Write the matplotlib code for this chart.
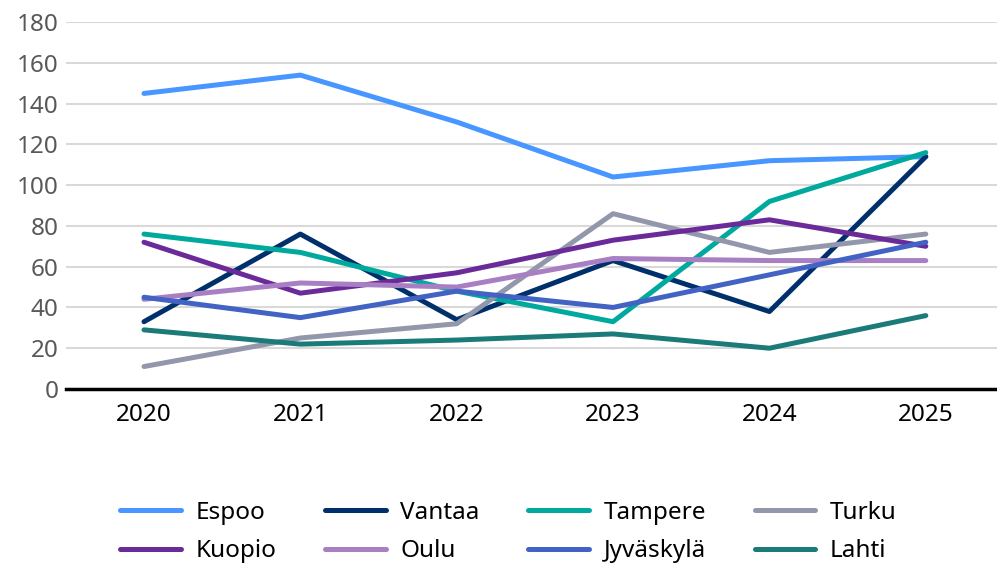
import matplotlib.pyplot as plt
import numpy as np

plt.rcParams['font.family'] = ['Noto Sans', 'DejaVu Sans']

years = ["2020", "2021", "2022", "2023", "2024", "2025"]

espoo = [145, 154, 131, 104, 112, 114]
vantaa = [33, 76, 34, 63, 38, 114]
tampere = [76, 67, 48, 33, 92, 116]
turku = [11, 25, 32, 86, 67, 76]
kuopio = [72, 47, 57, 73, 83, 70]
oulu = [44, 52, 50, 64, 63, 63]
jyvaskyla = [45, 35, 48, 40, 56, 72]
lahti = [29, 22, 24, 27, 20, 36]

series = [
    ("Espoo", espoo, "#4896FF"),
    ("Vantaa", vantaa, "#00306B"),
    ("Tampere", tampere, "#00A99D"),
    ("Turku", turku, "#9397AB"),
    ("Kuopio", kuopio, "#6B2A9A"),
    ("Oulu", oulu, "#A97FC4"),
    ("Jyväskylä", jyvaskyla, "#4262C4"),
    ("Lahti", lahti, "#1B7B78"),
]

fig = plt.figure(figsize=(9.97, 5.67), dpi=100)
ax = fig.add_axes([0.066, 0.314, 0.941, 0.647])

x = np.arange(len(years))
lines = []
for name, vals, col in series:
    ln, = ax.plot(x, vals, color=col, lw=3.6, label=name, solid_capstyle='round')
    lines.append(ln)

ax.set_xlim(-0.5, 5.5)
ax.set_ylim(0, 180)
ax.set_yticks(range(0, 181, 20))
ax.set_xticks(x)
ax.set_xticklabels(years)
ax.grid(axis='y', color='#D9D9D9', lw=1.5)
ax.set_axisbelow(True)
for s in ['top', 'right', 'left']:
    ax.spines[s].set_visible(False)
ax.spines['bottom'].set_color('black')
ax.spines['bottom'].set_linewidth(2.5)
ax.tick_params(axis='both', length=0, labelsize=17.5)
ax.tick_params(axis='y', colors='#595959', pad=5)
ax.tick_params(axis='x', colors='black', pad=10)

# legend fills column-wise, so reorder to read row-wise
order = [0, 4, 1, 5, 2, 6, 3, 7]
fig.legend([lines[i] for i in order], [series[i][0] for i in order],
           loc='center', bbox_to_anchor=(0.51, 0.062), ncol=4, frameon=False,
           fontsize=17.5, handlelength=2.5, handletextpad=0.6,
           columnspacing=2.0, labelspacing=0.6)

fig.savefig("out.png", dpi=100)
